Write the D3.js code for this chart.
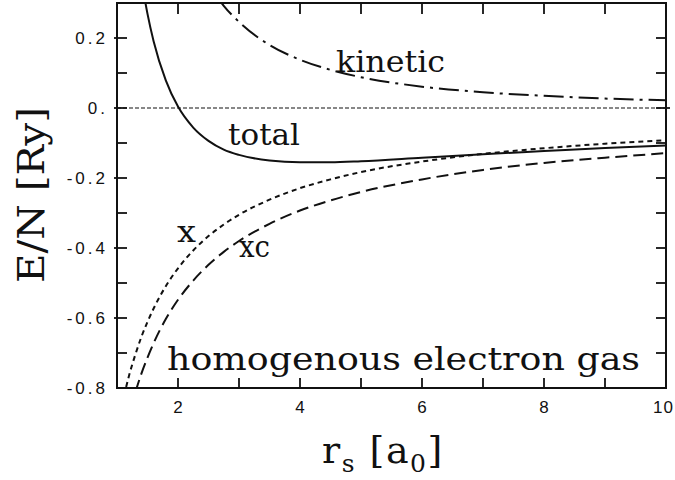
<!DOCTYPE html>
<html>
<head>
<meta charset="utf-8">
<script src="https://cdn.jsdelivr.net/npm/d3@7"></script>
<style>
  html, body { margin: 0; padding: 0; background: #fff; }
  svg { display: block; }
  .tick-label { font-family: "Liberation Sans", Arial, sans-serif; font-size: 17px; letter-spacing: 3px; fill: #111; }
  .serif { font-family: "DejaVu Serif", serif; fill: #111; }
</style>
</head>
<body>
<script>
// Energy per electron of the homogeneous electron gas (Rydberg) vs. r_s (Bohr)
const rs       = [1.15, 1.2, 1.3, 1.4, 1.5, 1.6, 1.8, 2.0, 2.25, 2.5, 2.75, 3.0, 3.5, 4.0, 4.5, 5.0, 6.0, 7.0, 8.0, 9.0, 10.0];
const kinetic  = [1.671, 1.535, 1.308, 1.128, 0.982, 0.863, 0.682, 0.553, 0.437, 0.354, 0.292, 0.246, 0.180, 0.138, 0.109, 0.088, 0.061, 0.045, 0.035, 0.027, 0.022];
const exchange = [-0.797, -0.763, -0.705, -0.654, -0.611, -0.573, -0.509, -0.458, -0.407, -0.366, -0.333, -0.305, -0.262, -0.229, -0.204, -0.183, -0.153, -0.131, -0.115, -0.102, -0.092];
const xc       = [-0.910, -0.875, -0.813, -0.759, -0.713, -0.672, -0.603, -0.548, -0.493, -0.448, -0.411, -0.380, -0.331, -0.293, -0.264, -0.240, -0.204, -0.177, -0.157, -0.142, -0.129];
const total    = [0.761, 0.660, 0.495, 0.369, 0.269, 0.191, 0.079, 0.004, -0.056, -0.094, -0.119, -0.134, -0.150, -0.155, -0.155, -0.152, -0.142, -0.132, -0.123, -0.114, -0.107];

const xTickValues = [2, 4, 6, 8, 10];
const xTickLabels = ["2", "4", "6", "8", "10"];
const xMinorTicks = [2, 3, 4, 5, 6, 7, 8, 9];
const yTickValues = [-0.8, -0.6, -0.4, -0.2, 0.0, 0.2];
const yTickLabels = ["-0.8", "-0.6", "-0.4", "-0.2", "0.", "0.2"];
const yMinorTicks = [-0.7, -0.6, -0.5, -0.4, -0.3, -0.2, -0.1, 0.0, 0.1, 0.2];

const W = 675, H = 480;
const box = { left: 117, right: 666, top: 3, bottom: 388 };

const x = d3.scaleLinear().domain([1, 10]).range([box.left, box.right]);
const y = d3.scaleLinear().domain([-0.8, 0.3]).range([box.bottom, box.top]);

const svg = d3.select("body").append("svg").attr("width", W).attr("height", H);

svg.append("defs").append("clipPath").attr("id", "plot")
  .append("rect").attr("x", box.left).attr("y", box.top)
  .attr("width", box.right - box.left).attr("height", box.bottom - box.top);

const plot = svg.append("g").attr("clip-path", "url(#plot)");

// zero reference line
plot.append("line")
  .attr("x1", x(1)).attr("x2", x(10)).attr("y1", y(0)).attr("y2", y(0))
  .attr("stroke", "#111").attr("stroke-width", 1.2).attr("stroke-dasharray", "4,2");

const line = vals => d3.line().x((d, i) => x(rs[i])).y(d => y(d)).curve(d3.curveMonotoneX)(vals);

const curves = [
  { vals: kinetic,  dash: "20,6,3,6" },
  { vals: exchange, dash: "5,4" },
  { vals: xc,       dash: "12,6" },
  { vals: total,    dash: null }
];
curves.forEach(c => {
  plot.append("path").attr("d", line(c.vals))
    .attr("fill", "none").attr("stroke", "#111").attr("stroke-width", 2)
    .attr("stroke-dasharray", c.dash);
});

// frame
svg.append("rect").attr("x", box.left).attr("y", box.top)
  .attr("width", box.right - box.left).attr("height", box.bottom - box.top)
  .attr("fill", "none").attr("stroke", "#111").attr("stroke-width", 2);

// ticks
const tk = svg.append("g").attr("stroke", "#111").attr("stroke-width", 1.8);
xMinorTicks.forEach(v => {
  tk.append("line").attr("x1", x(v)).attr("x2", x(v)).attr("y1", box.bottom).attr("y2", box.bottom - 10);
  tk.append("line").attr("x1", x(v)).attr("x2", x(v)).attr("y1", box.top).attr("y2", box.top + 11);
});
yMinorTicks.forEach(v => {
  const major = yTickValues.some(t => Math.abs(t - v) < 1e-9);
  tk.append("line").attr("x1", box.left - (major ? 3 : 0)).attr("x2", box.left + 10).attr("y1", y(v)).attr("y2", y(v));
  tk.append("line").attr("x1", box.right + (v === 0 ? 4 : 0)).attr("x2", box.right - 10).attr("y1", y(v)).attr("y2", y(v));
});

// tick labels (the last one is kept inside the page edge)
xTickValues.forEach((v, i) => {
  const last = i === xTickValues.length - 1;
  svg.append("text").attr("class", "tick-label")
    .attr("x", last ? W - 1 : x(v) + 1.5).attr("y", 413)
    .attr("text-anchor", last ? "end" : "middle")
    .style("letter-spacing", last ? "1px" : null)
    .text(xTickLabels[i]);
});
yTickValues.forEach((v, i) => {
  svg.append("text").attr("class", "tick-label")
    .attr("x", 108).attr("y", y(v) + 6).attr("text-anchor", "end")
    .text(yTickLabels[i]);
});

// curve labels
const labels = [
  { t: "kinetic", x: 336, y: 72, size: 30, len: 109 },
  { t: "total", x: 228, y: 145, size: 30, len: 72 },
  { t: "x", x: 177, y: 242, size: 30, len: 19 },
  { t: "xc", x: 239, y: 257, size: 30, len: 31 },
  { t: "homogenous electron gas", x: 167, y: 370, size: 32, len: 473 }
];
labels.forEach(l => {
  svg.append("text").attr("class", "serif")
    .attr("x", l.x).attr("y", l.y).attr("font-size", l.size)
    .attr("textLength", l.len).attr("lengthAdjust", "spacingAndGlyphs")
    .text(l.t);
});

// axis titles
svg.append("text").attr("class", "serif")
  .attr("transform", "translate(44,283) rotate(-90)")
  .attr("font-size", 37).attr("textLength", 176).attr("lengthAdjust", "spacingAndGlyphs")
  .text("E/N [Ry]");

const xt = svg.append("text").attr("class", "serif").attr("x", 322).attr("y", 463)
  .attr("font-size", 38).style("letter-spacing", "1.5px");
xt.append("tspan").text("r");
xt.append("tspan").attr("font-size", 25).attr("dy", 9).text("s");
xt.append("tspan").attr("dy", -9).text(" [a");
xt.append("tspan").attr("font-size", 25).attr("dy", 9).text("0");
xt.append("tspan").attr("dy", -9).text("]");
</script>
</body>
</html>
